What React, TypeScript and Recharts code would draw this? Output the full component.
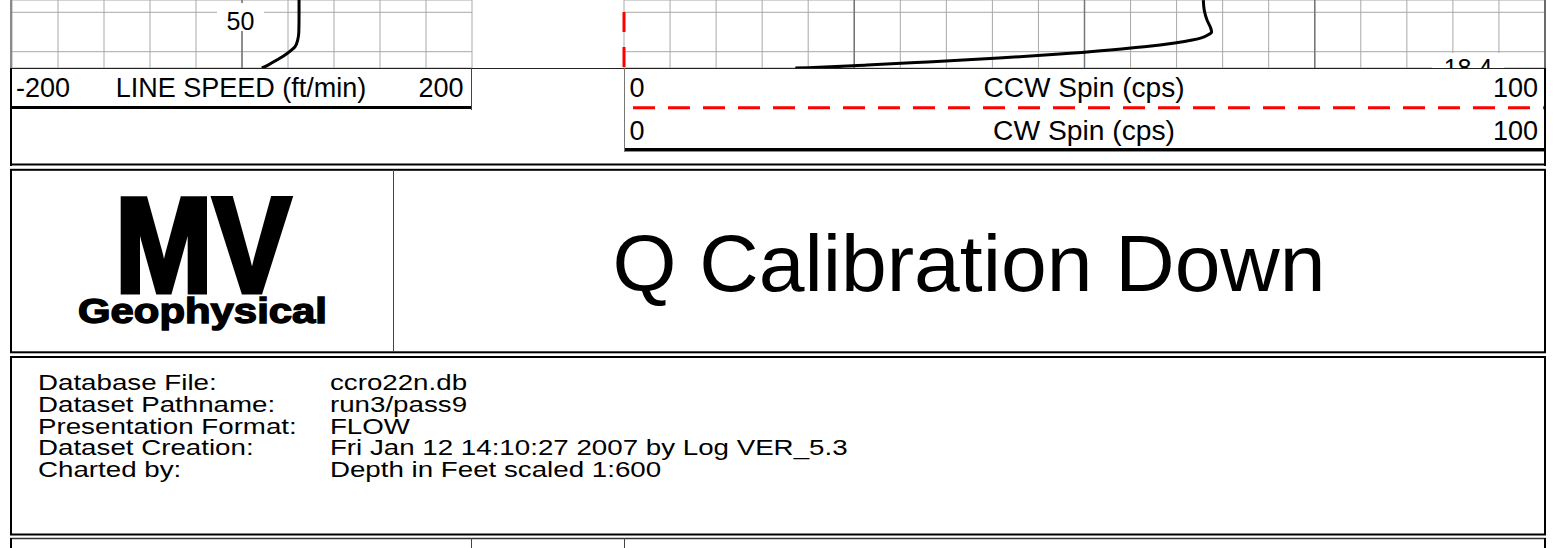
import React from "react";
import {
  LineChart,
  Line,
  XAxis,
  YAxis,
  CartesianGrid,
  ReferenceLine,
} from "recharts";

// depth axis (ft), 1:600 -> roughly 1.97 px per ft
const depthDomain: [number, number] = [33.76, 68.28];
const depthTicks = [40, 50, 60];

// left track: line speed
const speedTicks = [-200, -160, -120, -80, -40, 0, 40, 80, 120, 160, 200];
const speedDepths = [33.8, 42.0, 50.0, 54.1, 57.5, 59.1, 61.7, 64.2, 66.8, 68.28];
const lineSpeed = [49.6, 49.6, 49.4, 48.4, 46.1, 43.2, 37.4, 30.2, 22.6, 17.3];

// right track: spinner counts
const spinTicks = [0, 5, 10, 15, 20, 25, 30, 35, 40, 45, 50, 55, 60, 65, 70, 75, 80, 85, 90, 95, 100];
const spinDepths = [33.8, 38.8, 43.9, 48.0, 50.0, 51.5, 53.1, 54.1, 55.6, 57.5, 59.1, 61.2, 63.2, 65.2, 66.8, 68.1, 68.28];
const cwSpin = [62.9, 63.0, 63.3, 63.7, 63.8, 63.4, 62.6, 61.7, 59.8, 56.5, 52.8, 47.3, 40.7, 33.0, 26.4, 20.0, 18.6];
const ccwSpin = [0, 0, 0, 0, 0, 0, 0, 0, 0, 0, 0, 0, 0, 0, 0, 0, 0];

const infoLabels = [
  "Database File:",
  "Dataset Pathname:",
  "Presentation Format:",
  "Dataset Creation:",
  "Charted by:",
];
const infoValues = [
  "ccro22n.db",
  "run3/pass9",
  "FLOW",
  "Fri Jan 12 14:10:27 2007 by Log VER_5.3",
  "Depth in Feet scaled 1:600",
];

const FONT = '"Liberation Sans", Arial, Helvetica, sans-serif';
const GRID = "#a8a8a8";
const MAJOR = "#767676";

export default function App() {
  const speedData = speedDepths.map((depth, i) => ({ depth, speed: lineSpeed[i] }));
  const spinData = spinDepths.map((depth, i) => ({
    depth,
    cw: cwSpin[i],
    ccw: ccwSpin[i],
  }));

  return (
    <div
      style={{
        position: "absolute",
        left: 0,
        top: 0,
        width: 1554,
        height: 548,
        overflow: "hidden",
        background: "#fff",
      }}
    >
      {/* line speed track */}
      <div style={{ position: "absolute", left: 8, top: 0 }}>
        <LineChart
          width={468}
          height={68}
          layout="vertical"
          data={speedData}
          margin={{ top: 0, right: 4, bottom: 0, left: 4 }}
        >
          <CartesianGrid stroke={GRID} />
          <XAxis type="number" domain={[-200, 200]} ticks={speedTicks} hide />
          <YAxis
            type="number"
            dataKey="depth"
            domain={depthDomain}
            ticks={depthTicks}
            hide
          />
          <ReferenceLine x={0} stroke={MAJOR} strokeWidth={1.5} />
          <Line
            dataKey="speed"
            type="monotoneY"
            stroke="#000"
            strokeWidth={3}
            dot={false}
            isAnimationActive={false}
          />
        </LineChart>
      </div>

      {/* spinner track */}
      <div style={{ position: "absolute", left: 620, top: 0 }}>
        <LineChart
          width={929}
          height={68}
          layout="vertical"
          data={spinData}
          margin={{ top: 0, right: 4, bottom: 0, left: 4 }}
        >
          <CartesianGrid stroke={GRID} />
          <XAxis type="number" domain={[0, 100]} ticks={spinTicks} hide />
          <YAxis
            type="number"
            dataKey="depth"
            domain={depthDomain}
            ticks={depthTicks}
            hide
          />
          <ReferenceLine x={25} stroke={MAJOR} strokeWidth={1.5} />
          <ReferenceLine x={50} stroke={MAJOR} strokeWidth={1.5} />
          <ReferenceLine x={75} stroke={MAJOR} strokeWidth={1.5} />
          <Line
            dataKey="ccw"
            type="linear"
            stroke="#ff0000"
            strokeWidth={3}
            strokeDasharray="20 15"
            strokeDashoffset={23}
            dot={false}
            isAnimationActive={false}
          />
          <Line
            dataKey="cw"
            type="monotoneY"
            stroke="#000"
            strokeWidth={3}
            dot={false}
            isAnimationActive={false}
          />
        </LineChart>
      </div>

      {/* header, logo and info panels */}
      <svg
        width={1554}
        height={548}
        style={{ position: "absolute", left: 0, top: 0 }}
        fontFamily={FONT}
      >
        <rect x={217} y={3} width={47} height={28} fill="#fff" />
        <text x={240.5} y={30} fontSize={25} textAnchor="middle">50</text>
        <rect x={1432} y={53} width={72} height={16} fill="#fff" />
        <text x={1468} y={76.5} fontSize={25} textAnchor="middle">18.4</text>
        <rect x={0} y={68.5} width={1554} height={480} fill="#fff" />

        <line x1={11} y1={0} x2={11} y2={68} stroke="#8a8a8a" strokeWidth={2} />
        <line x1={1545} y1={0} x2={1545} y2={68} stroke="#6a6a6a" strokeWidth={2} />
        <line x1={10} y1={68.5} x2={1546} y2={68.5} stroke="#222" strokeWidth={1.2} />
        <line x1={11} y1={68} x2={11} y2={166} stroke="#000" strokeWidth={2} />
        <line x1={1545} y1={68} x2={1545} y2={166} stroke="#000" strokeWidth={2} />
        <line x1={10} y1={164.5} x2={1546} y2={164.5} stroke="#000" strokeWidth={2} />

        {/* line speed header */}
        <line x1={471.5} y1={68} x2={471.5} y2={110} stroke="#444" strokeWidth={1} />
        <line x1={12} y1={107.5} x2={471} y2={107.5} stroke="#000" strokeWidth={3} />
        <g fontSize={27} fill="#000">
          <text x={16} y={96.5}>-200</text>
          <text x={241} y={96.5} textAnchor="middle">LINE SPEED (ft/min)</text>
          <text x={463.5} y={96.5} textAnchor="end">200</text>
        </g>

        {/* spinner header */}
        <line x1={624.5} y1={68} x2={624.5} y2={152} stroke="#777" strokeWidth={1} />
        <line
          x1={633}
          y1={107.7}
          x2={1544}
          y2={107.7}
          stroke="#ff0000"
          strokeWidth={3}
          strokeDasharray="22 13"
        />
        <line x1={625} y1={149.5} x2={1544} y2={149.5} stroke="#000" strokeWidth={3} />
        <line x1={625} y1={151.5} x2={1544} y2={151.5} stroke="#8c8c8c" strokeWidth={1} />
        <g fontSize={27} fill="#000">
          <text x={629.5} y={97}>0</text>
          <text x={1084} y={97} textAnchor="middle" textLength={201} lengthAdjust="spacingAndGlyphs">
            CCW Spin (cps)
          </text>
          <text x={1538} y={97} textAnchor="end">100</text>
          <text x={629.5} y={140}>0</text>
          <text x={1084} y={140} textAnchor="middle" textLength={182} lengthAdjust="spacingAndGlyphs">
            CW Spin (cps)
          </text>
          <text x={1538} y={140} textAnchor="end">100</text>
        </g>

        {/* logo / title box */}
        <rect x={11} y={169.8} width={1534} height={182.5} fill="none" stroke="#000" strokeWidth={2} />
        <line x1={393.5} y1={170} x2={393.5} y2={352} stroke="#444" strokeWidth={1} />
        <text
          x={115}
          y={292}
          fontSize={136}
          fontWeight={900}
          textLength={176}
          lengthAdjust="spacingAndGlyphs"
          stroke="#000"
          strokeWidth={5}
        >
          MV
        </text>
        <text
          x={78}
          y={323}
          fontSize={35}
          fontWeight={900}
          textLength={249}
          lengthAdjust="spacingAndGlyphs"
          stroke="#000"
          strokeWidth={1.4}
        >
          Geophysical
        </text>
        <text
          x={969}
          y={291}
          fontSize={80}
          textAnchor="middle"
          textLength={713}
          lengthAdjust="spacingAndGlyphs"
        >
          Q Calibration Down
        </text>

        {/* dataset info box */}
        <rect x={11} y={357} width={1534} height={177.5} fill="none" stroke="#000" strokeWidth={2} />
        <g transform="translate(38 0) scale(1.26 1)" fontSize={22} fill="#000">
          {infoLabels.map((label, i) => (
            <text key={label} x={0} y={390.5 + i * 21.67}>
              {label}
            </text>
          ))}
          {infoValues.map((val, i) => (
            <text key={val} x={231.7} y={390.5 + i * 21.67}>
              {val}
            </text>
          ))}
        </g>

        {/* next panel, cut off by the page edge */}
        <line x1={10} y1={538.5} x2={1546} y2={538.5} stroke="#333" strokeWidth={1.5} />
        <line x1={11} y1={538} x2={11} y2={548} stroke="#000" strokeWidth={2} />
        <line x1={1545} y1={538} x2={1545} y2={548} stroke="#000" strokeWidth={2} />
        <line x1={471.5} y1={538} x2={471.5} y2={548} stroke="#444" strokeWidth={1} />
        <line x1={624.5} y1={538} x2={624.5} y2={548} stroke="#444" strokeWidth={1} />
      </svg>
    </div>
  );
}
